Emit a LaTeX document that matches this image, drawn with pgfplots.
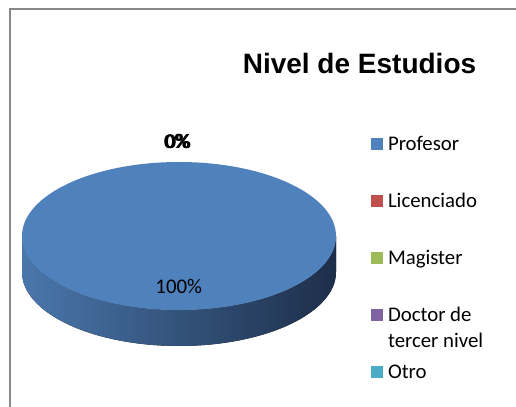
\documentclass[border=0pt]{standalone}
\usepackage{pgfplots}
\pgfplotsset{compat=1.18}
\usepackage{fontspec}
\setmainfont{Carlito}
\newfontfamily\titlefont{Liberation Sans}
\definecolor{cProf}{HTML}{4F81BD}
\definecolor{cLic}{HTML}{C0504D}
\definecolor{cMag}{HTML}{9BBB59}
\definecolor{cDoc}{HTML}{8064A2}
\definecolor{cOtro}{HTML}{4BACC6}
\definecolor{sideL}{HTML}{4A77AC}
\definecolor{sideM}{HTML}{2C4970}
\definecolor{sideR}{HTML}{1D2E49}
\definecolor{framegray}{HTML}{888888}
\begin{document}
\begin{tikzpicture}
\useasboundingbox (0,0) rectangle (516bp,407bp);
\begin{axis}[
  at={(0,0)}, anchor=south west,
  scale only axis, width=516bp, height=407bp,
  xmin=0, xmax=516, ymin=0, ymax=407,
  hide axis,
  legend image code/.code={\fill[#1] (0bp,0.7bp) rectangle (12bp,12.7bp);},
  legend cell align=left,
  legend style={at={(axis cs:371,270.5)}, anchor=north west, draw=none, fill=none,
    inner sep=0pt, outer sep=0pt, row sep=39bp, column sep=5bp,
    font=\fontsize{20.8bp}{26.2bp}\selectfont,
    nodes={inner sep=0pt, text height=14bp, text depth=4bp, anchor=base west}},
]
% frame (partly cut off by the picture)
\draw[framegray, line width=1.3bp] (axis cs:10,0) -- (axis cs:10,398) -- (axis cs:516,398);
% pie: Profesor 100%, the others 0%
\fill[left color=sideL, middle color=sideM, right color=sideR]
  (axis cs:22,171) -- (axis cs:22,135)
  arc[start angle=180, end angle=360, x radius=157bp, y radius=74bp]
  -- (axis cs:336,171)
  arc[start angle=0, end angle=-180, x radius=157bp, y radius=74bp] -- cycle;
\fill[cProf] (axis cs:179,171) ellipse[x radius=157bp, y radius=74bp];
% data labels
\node[anchor=base, font=\fontsize{20.8bp}{25bp}\selectfont] at (axis cs:178.7,113) {100\%};
\node[anchor=base, font=\fontsize{20.8bp}{25bp}\selectfont] at (axis cs:176.5,258) {0\%};
\node[anchor=base, font=\fontsize{20.8bp}{25bp}\selectfont] at (axis cs:177.2,258.4) {0\%};
\node[anchor=base, font=\fontsize{20.8bp}{25bp}\selectfont] at (axis cs:177.9,258.8) {0\%};
\node[anchor=base, font=\fontsize{20.8bp}{25bp}\selectfont] at (axis cs:178.6,258.2) {0\%};
% title
\node[anchor=base, font=\titlefont\bfseries\fontsize{28bp}{34bp}\selectfont] at (axis cs:359.5,333) {Nivel de Estudios};
% legend
\addlegendimage{fill=cProf, draw=none}
\addlegendentry{Profesor}
\addlegendimage{fill=cLic, draw=none}
\addlegendentry{Licenciado}
\addlegendimage{fill=cMag, draw=none}
\addlegendentry{Magister}
\addlegendimage{fill=cDoc, draw=none}
\addlegendentry{\begin{tabular}[t]{@{}l@{}}Doctor de\\tercer nivel\end{tabular}}
\addlegendimage{fill=cOtro, draw=none}
\addlegendentry{Otro}
\end{axis}
\end{tikzpicture}
\end{document}
